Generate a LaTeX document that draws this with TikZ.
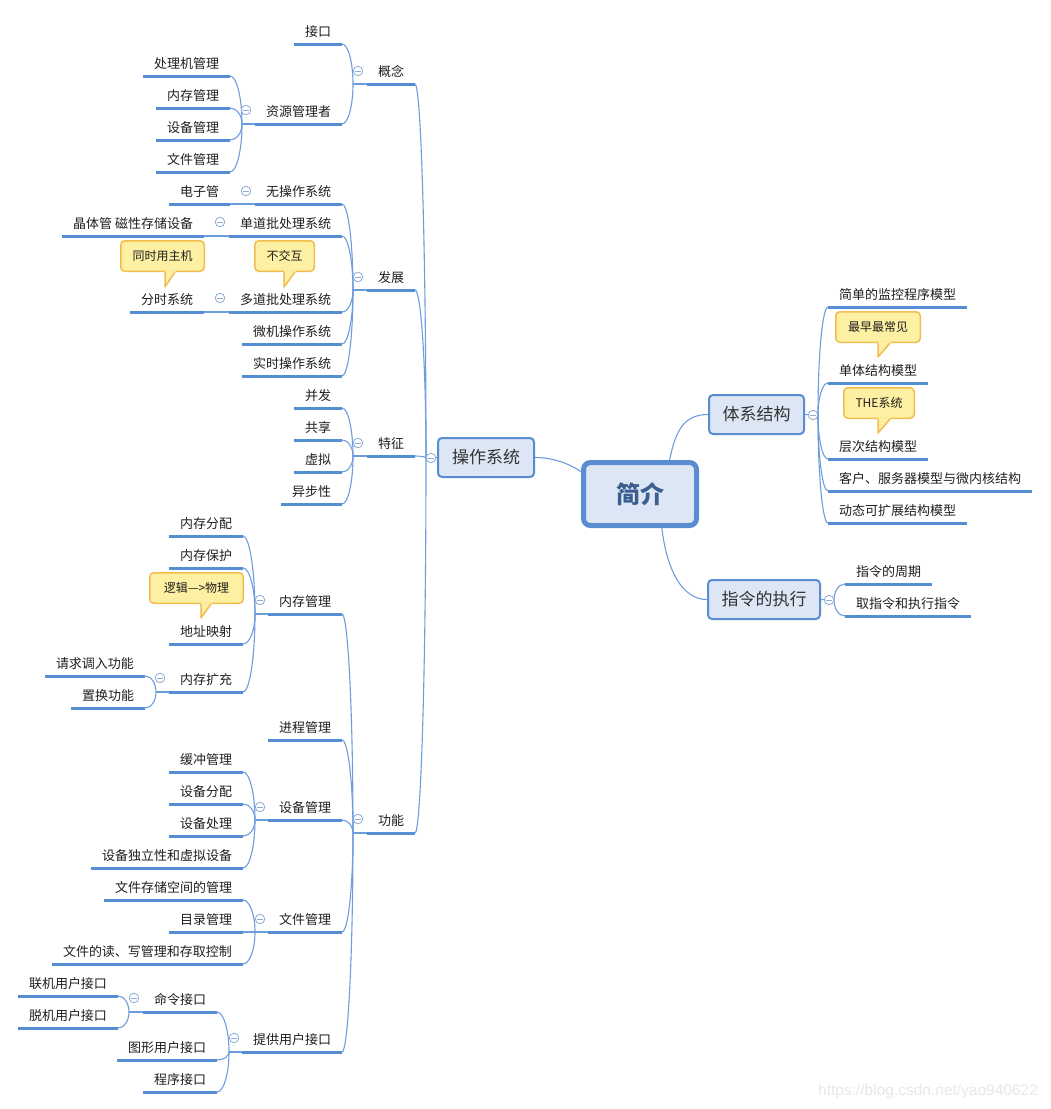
\documentclass[tikz,border=0pt]{standalone}
\usepackage{fontspec}
\setmainfont{Liberation Sans}
\newfontfamily\cjk{Noto Sans CJK SC}
\usetikzlibrary{calc}
\definecolor{ul}{HTML}{558ED5}
\definecolor{ln}{HTML}{6C9EDB}
\definecolor{boxfill}{HTML}{DCE6F4}
\definecolor{boxdraw}{HTML}{5A8CD2}
\definecolor{cfill}{HTML}{FDF0A3}
\definecolor{cdraw}{HTML}{F2BC4E}
\definecolor{iconc}{HTML}{8EAAD6}
\definecolor{roottext}{HTML}{3B5E8E}
\newcommand{\calltail}[4]{% tipx tipy basey basewidth
  \fill[cfill] (#1,#3-1.6) -- (#1+#4+1.3,#3-1.6) -- (#1,#2) -- cycle;
  \draw[cdraw,line width=1.5pt,line join=round] (#1+#4,#3) -- (#1,#2) -- (#1,#3);}
\begin{document}
\begin{tikzpicture}[x=1pt,y=-1pt,
  topic/.style={font=\cjk\fontsize{13}{15}\selectfont, inner xsep=11pt, inner ysep=0pt,
    text height=12pt, text depth=8pt, outer sep=0pt, text=black!88},
  lt/.style={topic, anchor=south east},
  rt/.style={topic, anchor=south west},
  uline/.style={draw=ul, line width=3pt},
  conn/.style={draw=ln, line width=1.1pt},
  curv/.style={to path={.. controls ($(\tikztostart)!0.55!(\tikztostart -| \tikztotarget)$) and ($(\tikztotarget)!0.55!(\tikztostart -| \tikztotarget)$) .. (\tikztotarget)}},
  box/.style={draw=boxdraw, fill=boxfill, line width=2pt, rounded corners=4pt,
    font=\cjk\fontsize{17}{20}\selectfont, text=black!80, minimum height=39pt, inner sep=0pt},
  rootbox/.style={draw=boxdraw, fill=boxfill, line width=5pt, rounded corners=7pt,
    minimum width=113pt, minimum height=63pt, inner sep=0pt,
    font=\cjk\bfseries\fontsize{24}{28}\selectfont, text=roottext},
  cbox/.style={draw=cdraw, fill=cfill, line width=1.5pt, rounded corners=4pt,
    font=\cjk\fontsize{12}{14}\selectfont, inner sep=0pt, minimum height=30.5pt, text=black!88},
  icn/.style={circle, draw=iconc, fill=white, line width=0.8pt, minimum size=9.5pt, inner sep=0pt,
    path picture={\draw[draw=iconc,line width=0.8pt] ([xshift=-2.6pt]path picture bounding box.center) -- ([xshift=2.6pt]path picture bounding box.center);}}
]
\path[use as bounding box, fill=white] (0,0) rectangle (1051,1109);

% ---- main boxes
\node[rootbox] (root) at (640,494) {简介};
\node[box, minimum width=96pt] (osys) at (486,457.5) {操作系统};
\node[box, minimum width=95pt] (tx) at (756.5,414.5) {体系结构};
\node[box, minimum width=112pt] (ez) at (764,599.5) {指令的执行};

% ---- left topics
\node[lt] (gn) at (415,84) {概念};
\node[lt] (jk) at (342,44) {接口};
\node[lt] (zy) at (342,124) {资源管理者};
\node[lt] (a1) at (230,76) {处理机管理};
\node[lt] (a2) at (230,108) {内存管理};
\node[lt] (a3) at (230,140) {设备管理};
\node[lt] (a4) at (230,172) {文件管理};
\node[lt] (fz) at (415,290) {发展};
\node[lt] (b1) at (342,204) {无操作系统};
\node[lt] (b1a) at (230,204) {电子管};
\node[lt] (b2) at (342,236) {单道批处理系统};
\node[lt] (b2a) at (204,236) {晶体管 磁性存储设备};
\node[lt] (b3) at (342,312) {多道批处理系统};
\node[lt] (b3a) at (204,312) {分时系统};
\node[lt] (b4) at (342,344) {微机操作系统};
\node[lt] (b5) at (342,376) {实时操作系统};
\node[lt] (tz) at (415,456) {特征};
\node[lt] (t1) at (342,408) {并发};
\node[lt] (t2) at (342,440) {共享};
\node[lt] (t3) at (342,472) {虚拟};
\node[lt] (t4) at (342,504) {异步性};
\node[lt] (gnn) at (415,833) {功能};
\node[lt] (m) at (342,614) {内存管理};
\node[lt] (m1) at (243,536) {内存分配};
\node[lt] (m2) at (243,568) {内存保护};
\node[lt] (m3) at (243,644) {地址映射};
\node[lt] (m4) at (243,692) {内存扩充};
\node[lt] (m4a) at (145,676) {请求调入功能};
\node[lt] (m4b) at (145,708) {置换功能};
\node[lt] (p) at (342,740) {进程管理};
\node[lt] (d) at (342,820) {设备管理};
\node[lt] (d1) at (243,772) {缓冲管理};
\node[lt] (d2) at (243,804) {设备分配};
\node[lt] (d3) at (243,836) {设备处理};
\node[lt] (d4) at (243,868) {设备独立性和虚拟设备};
\node[lt] (f) at (342,932) {文件管理};
\node[lt] (f1) at (243,900) {文件存储空间的管理};
\node[lt] (f2) at (243,932) {目录管理};
\node[lt] (f3) at (243,964) {文件的读、写管理和存取控制};
\node[lt] (u) at (342,1052) {提供用户接口};
\node[lt] (u1) at (217,1012) {命令接口};
\node[lt] (u1a) at (118,996) {联机用户接口};
\node[lt] (u1b) at (118,1028) {脱机用户接口};
\node[lt] (u2) at (217,1060) {图形用户接口};
\node[lt] (u3) at (217,1092) {程序接口};

% ---- right topics
\node[rt] (s1) at (828,307) {简单的监控程序模型};
\node[rt] (s2) at (828,383) {单体结构模型};
\node[rt] (s3) at (828,459) {层次结构模型};
\node[rt] (s4) at (828,491) {客户、服务器模型与微内核结构};
\node[rt] (s5) at (828,523) {动态可扩展结构模型};
\node[rt] (e1) at (845,584) {指令的周期};
\node[rt] (e2) at (845,616) {取指令和执行指令};

% ---- underlines
\foreach \n in {gn,jk,zy,a1,a2,a3,a4,fz,b1,b1a,b2,b2a,b3,b3a,b4,b5,tz,t1,t2,t3,t4,
  gnn,m,m1,m2,m3,m4,m4a,m4b,p,d,d1,d2,d3,d4,f,f1,f2,f3,u,u1,u1a,u1b,u2,u3,
  s1,s2,s3,s4,s5,e1,e2}
  \draw[uline] (\n.south west) -- (\n.south east);

% ---- junctions
\coordinate (J0) at (426,458);
\coordinate (Jgn) at (353,84);
\coordinate (Jzy) at (242,124);
\coordinate (Jfz) at (353,290);
\coordinate (Jtz) at (353,456);
\coordinate (Jgnn) at (353,833);
\coordinate (Jm) at (255,614);
\coordinate (Jm4) at (156,692);
\coordinate (Jd) at (255,820);
\coordinate (Jf) at (255,932);
\coordinate (Ju) at (229,1052);
\coordinate (Ju1) at (129,1012);
\coordinate (Jtx) at (818,415);
\coordinate (Jez) at (834,600);

% ---- root connectors
\coordinate (r1) at ($(root.north west)!0.17!(root.south west)$);
\coordinate (r2) at ($(root.north)!0.5!(root.north east)$);
\coordinate (r3) at ($(root.south)!0.37!(root.south east)$);
\draw[conn] (osys.east) .. controls +(18,0) and +(-12,-8) .. (r1);
\draw[conn] (r2) .. controls +(6,-28) and +(-25,0) .. (tx.west);
\draw[conn] (r3) .. controls +(5,42) and +(-25,0) .. (ez.west);

% ---- tree connectors
\draw[conn] (J0) -- (osys.west);
\foreach \c in {gn,fz,tz,gnn} \draw[conn] (\c.south east) to[curv] (J0);
\draw[conn] (Jgn) -- (gn.south west);
\foreach \c in {jk,zy} \draw[conn] (\c.south east) to[curv] (Jgn);
\draw[conn] (Jzy) -- (zy.south west);
\foreach \c in {a1,a2,a3,a4} \draw[conn] (\c.south east) to[curv] (Jzy);
\draw[conn] (Jfz) -- (fz.south west);
\foreach \c in {b1,b2,b3,b4,b5} \draw[conn] (\c.south east) to[curv] (Jfz);
\draw[conn] (b1a.south east) -- (b1.south west);
\draw[conn] (b2a.south east) -- (b2.south west);
\draw[conn] (b3a.south east) -- (b3.south west);
\draw[conn] (Jtz) -- (tz.south west);
\foreach \c in {t1,t2,t3,t4} \draw[conn] (\c.south east) to[curv] (Jtz);
\draw[conn] (Jgnn) -- (gnn.south west);
\foreach \c in {m,p,d,f,u} \draw[conn] (\c.south east) to[curv] (Jgnn);
\draw[conn] (Jm) -- (m.south west);
\foreach \c in {m1,m2,m3,m4} \draw[conn] (\c.south east) to[curv] (Jm);
\draw[conn] (Jm4) -- (m4.south west);
\foreach \c in {m4a,m4b} \draw[conn] (\c.south east) to[curv] (Jm4);
\draw[conn] (Jd) -- (d.south west);
\foreach \c in {d1,d2,d3,d4} \draw[conn] (\c.south east) to[curv] (Jd);
\draw[conn] (Jf) -- (f.south west);
\foreach \c in {f1,f2,f3} \draw[conn] (\c.south east) to[curv] (Jf);
\draw[conn] (Ju) -- (u.south west);
\foreach \c in {u1,u2,u3} \draw[conn] (\c.south east) to[curv] (Ju);
\draw[conn] (Ju1) -- (u1.south west);
\foreach \c in {u1a,u1b} \draw[conn] (\c.south east) to[curv] (Ju1);
\draw[conn] (tx.east) -- (Jtx);
\foreach \c in {s1,s2,s3,s4,s5} \draw[conn] (\c.south west) to[curv] (Jtx);
\draw[conn] (ez.east) -- (Jez);
\foreach \c in {e1,e2} \draw[conn] (\c.south west) to[curv] (Jez);

% ---- collapse icons
\node[icn] (i1) at (431,458) {};
\node[icn] (i2) at (358,71) {};
\node[icn] (i3) at (246,110) {};
\node[icn] (i4) at (358,277) {};
\node[icn] (i5) at (246,191) {};
\node[icn] (i6) at (220,222) {};
\node[icn] (i7) at (220,298) {};
\node[icn] (i8) at (358,443) {};
\node[icn] (i9) at (358,819) {};
\node[icn] (i10) at (260,600) {};
\node[icn] (i11) at (160,678) {};
\node[icn] (i12) at (260,807) {};
\node[icn] (i13) at (260,919) {};
\node[icn] (i14) at (234,1038) {};
\node[icn] (i15) at (134,998) {};
\node[icn] (i16) at (813,415) {};
\node[icn] (i17) at (829,600) {};

% ---- callouts
\node[cbox, minimum width=83.5pt] (c1) at (162.5,256) {同时用主机};
\calltail{165}{287}{272}{10}
\node[cbox, minimum width=59.5pt] (c2) at (284.5,256) {不交互};
\calltail{284}{287}{272}{11}
\node[cbox, minimum width=93.5pt] (c3) at (196.5,588) {逻辑—>物理};
\calltail{201}{618}{604}{10}
\node[cbox, minimum width=84.5pt] (c4) at (878,327) {最早最常见};
\calltail{878}{357}{343}{12}
\node[cbox, minimum width=70.5pt] (c5) at (879,403) {THE系统};
\calltail{878}{433}{419}{12}

% ---- watermark
\node[anchor=west, text=black!9, font=\fontsize{15.5}{18}\selectfont, inner sep=0pt] (wm) at (818,1091) {https://blog.csdn.net/yao940622};
\end{tikzpicture}
\end{document}
